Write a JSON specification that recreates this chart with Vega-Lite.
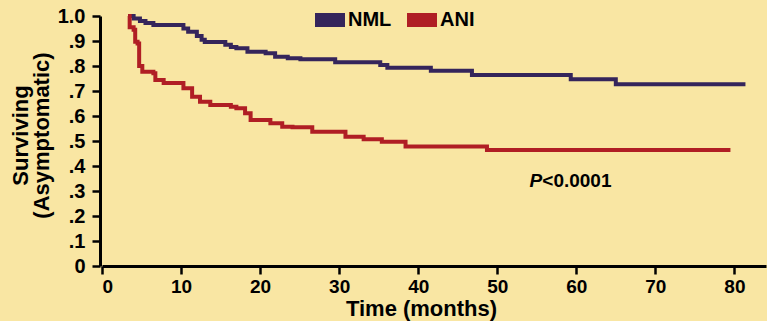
{
  "$schema": "https://vega.github.io/schema/vega-lite/v6.json",
  "width": 664,
  "height": 250,
  "autosize": {"type": "none"},
  "padding": {"left": 102, "top": 16, "right": 1, "bottom": 55},
  "background": "#f9e6a3",
  "config": {"view": {"stroke": null}, "font": "Liberation Sans"},
  "datasets": {
    "curves": [
      {"group": "NML", "t": 3.3, "s": 1.0},
      {"group": "NML", "t": 4.0, "s": 0.99},
      {"group": "NML", "t": 4.8, "s": 0.98},
      {"group": "NML", "t": 5.5, "s": 0.972},
      {"group": "NML", "t": 6.5, "s": 0.964},
      {"group": "NML", "t": 10.3, "s": 0.95},
      {"group": "NML", "t": 10.9, "s": 0.937},
      {"group": "NML", "t": 12.0, "s": 0.92},
      {"group": "NML", "t": 12.6, "s": 0.905},
      {"group": "NML", "t": 13.0, "s": 0.896},
      {"group": "NML", "t": 15.6, "s": 0.885},
      {"group": "NML", "t": 16.3, "s": 0.876},
      {"group": "NML", "t": 17.0, "s": 0.871},
      {"group": "NML", "t": 18.4, "s": 0.857},
      {"group": "NML", "t": 20.7, "s": 0.851},
      {"group": "NML", "t": 21.9, "s": 0.837},
      {"group": "NML", "t": 23.5, "s": 0.831},
      {"group": "NML", "t": 25.1, "s": 0.827},
      {"group": "NML", "t": 29.5, "s": 0.815},
      {"group": "NML", "t": 35.2, "s": 0.804},
      {"group": "NML", "t": 36.1, "s": 0.793},
      {"group": "NML", "t": 41.6, "s": 0.781},
      {"group": "NML", "t": 46.8, "s": 0.764},
      {"group": "NML", "t": 59.3, "s": 0.747},
      {"group": "NML", "t": 65.0, "s": 0.727},
      {"group": "NML", "t": 81.4, "s": 0.727},
      {"group": "ANI", "t": 3.3, "s": 1.0},
      {"group": "ANI", "t": 3.5, "s": 0.955},
      {"group": "ANI", "t": 4.0, "s": 0.945},
      {"group": "ANI", "t": 4.2, "s": 0.897},
      {"group": "ANI", "t": 4.5, "s": 0.89},
      {"group": "ANI", "t": 4.7, "s": 0.8},
      {"group": "ANI", "t": 5.1, "s": 0.777},
      {"group": "ANI", "t": 6.5, "s": 0.771},
      {"group": "ANI", "t": 6.75, "s": 0.744},
      {"group": "ANI", "t": 7.8, "s": 0.732},
      {"group": "ANI", "t": 10.3, "s": 0.711},
      {"group": "ANI", "t": 11.4, "s": 0.677},
      {"group": "ANI", "t": 12.4, "s": 0.657},
      {"group": "ANI", "t": 13.7, "s": 0.644},
      {"group": "ANI", "t": 16.3, "s": 0.637},
      {"group": "ANI", "t": 17.0, "s": 0.631},
      {"group": "ANI", "t": 18.1, "s": 0.611},
      {"group": "ANI", "t": 18.8, "s": 0.584},
      {"group": "ANI", "t": 21.3, "s": 0.571},
      {"group": "ANI", "t": 22.8, "s": 0.557},
      {"group": "ANI", "t": 24.1, "s": 0.555},
      {"group": "ANI", "t": 26.6, "s": 0.537},
      {"group": "ANI", "t": 30.8, "s": 0.517},
      {"group": "ANI", "t": 33.1, "s": 0.507},
      {"group": "ANI", "t": 35.4, "s": 0.497},
      {"group": "ANI", "t": 38.4, "s": 0.478},
      {"group": "ANI", "t": 48.7, "s": 0.464},
      {"group": "ANI", "t": 79.5, "s": 0.464}
    ],
    "pLabel": [{"text": "P", "t": 55.7, "s": 0.317}],
    "pValue": [{"text": "<0.0001", "t": 55.7, "s": 0.317}]
  },
  "layer": [
    {
      "data": {"name": "curves"},
      "mark": {"type": "line", "interpolate": "step-after", "strokeWidth": 4},
      "encoding": {
        "x": {
          "field": "t", "type": "quantitative",
          "scale": {"domain": [0, 84], "nice": false, "zero": false},
          "axis": {
            "title": "Time (months)",
            "values": [0, 10, 20, 30, 40, 50, 60, 70, 80], "tickCount": 9,
            "grid": false, "labelOverlap": false,
            "domainColor": "black", "domainWidth": 3,
            "tickColor": "black", "tickWidth": 2.5, "tickSize": 8,
            "labelFont": "Liberation Sans", "labelFontWeight": "bold", "labelFontSize": 19,
            "labelColor": "black", "labelPadding": 3,
            "titleFont": "Liberation Sans", "titleFontWeight": "bold", "titleFontSize": 22,
            "titleColor": "black", "titleX": 319, "titleY": 49,
            "titleBaseline": "alphabetic", "titleAlign": "center"
          }
        },
        "y": {
          "field": "s", "type": "quantitative",
          "scale": {"domain": [0, 1], "nice": false},
          "axis": {
            "title": ["Surviving", "(Asymptomatic)"],
            "values": [0, 0.1, 0.2, 0.3, 0.4, 0.5, 0.6, 0.7, 0.8, 0.9, 1.0], "tickCount": 11,
            "labelExpr": "datum.value == 0 ? '0' : datum.value == 1 ? '1.0' : replace(format(datum.value, '.1f'), '0.', '.')",
            "grid": false, "offset": 2, "labelOverlap": false,
            "domainColor": "black", "domainWidth": 3,
            "tickColor": "black", "tickWidth": 2.5, "tickSize": 8,
            "labelFont": "Liberation Sans", "labelFontWeight": "bold", "labelFontSize": 20,
            "labelColor": "black", "labelPadding": 7,
            "titleFont": "Liberation Sans", "titleFontWeight": "bold", "titleFontSize": 22,
            "titleColor": "black", "titleAngle": -90, "titleX": -73, "titleY": 119,
            "titleBaseline": "alphabetic", "titleAlign": "center", "titleLineHeight": 21
          }
        },
        "color": {
          "field": "group", "type": "nominal",
          "scale": {"domain": ["NML", "ANI"], "range": ["#35255b", "#b01e24"]},
          "legend": {
            "orient": "none", "legendX": 206, "legendY": -18,
            "direction": "horizontal", "title": null,
            "symbolType": "stroke", "symbolSize": 900, "symbolStrokeWidth": 14,
            "labelFont": "Liberation Sans", "labelFontSize": 20, "labelFontWeight": "bold",
            "labelColor": "black", "labelOffset": -4, "columnPadding": -13
          }
        }
      }
    },
    {
      "data": {"name": "pLabel"},
      "mark": {"type": "text", "align": "right", "baseline": "alphabetic", "font": "Liberation Sans", "fontStyle": "italic", "fontWeight": "bold", "fontSize": 19, "color": "black"},
      "encoding": {
        "x": {"field": "t", "type": "quantitative"},
        "y": {"field": "s", "type": "quantitative"},
        "text": {"field": "text"}
      }
    },
    {
      "data": {"name": "pValue"},
      "mark": {"type": "text", "align": "left", "baseline": "alphabetic", "font": "Liberation Sans", "fontWeight": "bold", "fontSize": 19, "color": "black"},
      "encoding": {
        "x": {"field": "t", "type": "quantitative"},
        "y": {"field": "s", "type": "quantitative"},
        "text": {"field": "text"}
      }
    }
  ]
}
